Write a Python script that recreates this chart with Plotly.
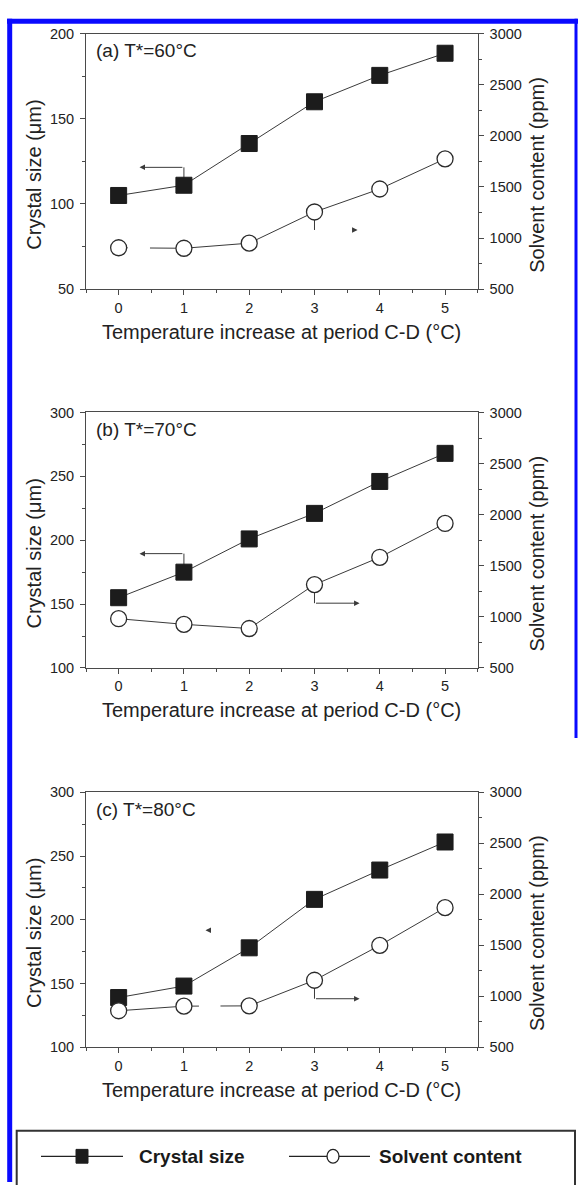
import plotly.graph_objects as go

W, H = 578, 1185
FONT = "Liberation Sans, Arial, sans-serif"
LEG_FONT = "Liberation Sans Narrow, Arial Narrow, Liberation Sans, Arial, sans-serif"

# ---------------- data ----------------
x_vals = [0, 1, 2, 3, 4, 5]
crystal_a = [105, 111, 135.5, 160, 175.5, 188.5]
solvent_a = [905, 900, 950, 1255, 1480, 1775]
crystal_b = [155, 175, 201, 221, 246, 268]
solvent_b = [982, 927, 886, 1316, 1583, 1914]
crystal_c = [139, 148, 178, 216, 239, 261]
solvent_c = [858, 903, 906, 1157, 1499, 1869]

panel_labels = ["(a) T*=60°C", "(b) T*=70°C", "(c) T*=80°C"]
crystal_ranges = [[50, 200], [100, 300], [100, 300]]
solvent_range = [500, 3000]
x_title = "Temperature increase at period C-D (°C)"
y_left_title = "Crystal size (μm)"
y_right_title = "Solvent content (ppm)"
legend_names = ["Crystal size", "Solvent content"]

crystal_series = [crystal_a, crystal_b, crystal_c]
solvent_series = [solvent_a, solvent_b, solvent_c]

# ---------------- layout helpers ----------------
def px(p):
    return p / W


def py(p):
    return 1 - p / H


X0, X1 = 86, 477.7
panels_px = [(26, 285), (410, 669), (795, 1053.5)]

AX = "#4a4a4a"
TXT = "#222222"
LINE = "#3a3a3a"

fig = go.Figure()
layout = dict(
    width=W, height=H, margin=dict(l=0, r=0, t=0, b=0),
    paper_bgcolor="white", plot_bgcolor="white", showlegend=False,
)
annotations = []
shapes = []

tickfont = dict(family=FONT, size=14.5, color=TXT)

for i in range(3):
    xn = "x" if i == 0 else f"x{i+1}"
    yl = "y" if i == 0 else f"y{2*i+1}"
    yr = f"y{2*i+2}"
    xkey = "xaxis" if i == 0 else f"xaxis{i+1}"
    ylkey = "yaxis" if i == 0 else f"yaxis{2*i+1}"
    yrkey = f"yaxis{2*i+2}"
    top, bot = panels_px[i]
    dom_y = [py(bot), py(top)]

    layout[xkey] = dict(
        domain=[px(X0), px(X1)], range=[-0.5, 5.5], anchor=yl,
        tickmode="linear", tick0=0, dtick=1,
        ticks="outside", ticklen=5, tickwidth=1, tickcolor=AX,
        showline=True, linecolor=AX, linewidth=1, mirror=True,
        showgrid=False, zeroline=False, tickfont=tickfont,
        minor=dict(dtick=0.5, ticks="outside", ticklen=3, tickcolor=AX, showgrid=False),
    )
    layout[ylkey] = dict(
        domain=dom_y, range=crystal_ranges[i], anchor=xn,
        tickmode="linear", tick0=0, dtick=50,
        ticks="outside", ticklen=5, tickwidth=1, tickcolor=AX,
        showline=True, linecolor=AX, linewidth=1,
        showgrid=False, zeroline=False, tickfont=tickfont, ticklabelstandoff=3,
        minor=dict(dtick=25, ticks="outside", ticklen=3, tickcolor=AX, showgrid=False),
    )
    layout[yrkey] = dict(
        domain=dom_y, range=solvent_range, anchor=xn, overlaying=yl, side="right",
        tickmode="linear", tick0=0, dtick=500,
        ticks="outside", ticklen=5, tickwidth=1, tickcolor=AX,
        showline=True, linecolor=AX, linewidth=1,
        showgrid=False, zeroline=False, tickfont=tickfont, ticklabelstandoff=3,
        minor=dict(dtick=250, ticks="outside", ticklen=3, tickcolor=AX, showgrid=False),
    )

    fig.add_trace(go.Scatter(
        x=x_vals, y=crystal_series[i], xaxis=xn, yaxis=yl, mode="lines+markers",
        name=legend_names[0], cliponaxis=False,
        line=dict(color=LINE, width=1),
        marker=dict(symbol="square", size=16, color="#1c1c1c", line=dict(color="#1c1c1c", width=1)),
    ))
    fig.add_trace(go.Scatter(
        x=x_vals, y=solvent_series[i], xaxis=xn, yaxis=yr, mode="lines+markers",
        name=legend_names[1], cliponaxis=False,
        line=dict(color=LINE, width=1),
        marker=dict(symbol="circle", size=16, color="white", line=dict(color="#2a2a2a", width=1.3)),
    ))

    # panel label
    annotations.append(dict(
        text=panel_labels[i], xref="paper", yref="paper", x=px(94), y=py(top + 17),
        xanchor="left", yanchor="middle", showarrow=False,
        font=dict(family=FONT, size=19, color=TXT),
    ))
    # axis titles
    mid = (top + bot) / 2 + 13.5
    annotations.append(dict(
        text=y_left_title, xref="paper", yref="paper", x=px(34), y=py(mid),
        xanchor="center", yanchor="middle", textangle=-90, showarrow=False,
        font=dict(family=FONT, size=20, color=TXT),
    ))
    annotations.append(dict(
        text=y_right_title, xref="paper", yref="paper", x=px(537), y=py(mid),
        xanchor="center", yanchor="middle", textangle=-90, showarrow=False,
        font=dict(family=FONT, size=20, color=TXT),
    ))
    annotations.append(dict(
        text=x_title, xref="paper", yref="paper", x=px((X0 + X1) / 2), y=py(bot + 43),
        xanchor="center", yanchor="middle", showarrow=False,
        font=dict(family=FONT, size=20, color=TXT),
    ))

# ---------------- pointer arrows ----------------
def vline(xr, yr, x, y0, y1):
    shapes.append(dict(type="line", xref=xr, yref=yr, x0=x, x1=x, y0=y0, y1=y1,
                       line=dict(color=LINE, width=1), layer="below"))


def arrow(xr, yr, x_tip, x_tail, y):
    annotations.append(dict(
        xref=xr, yref=yr, axref=xr, ayref=yr, x=x_tip, y=y, ax=x_tail, ay=y,
        text="", showarrow=True, arrowhead=2, arrowsize=1.1, arrowwidth=1,
        arrowcolor=LINE,
    ))

# (a)
vline("x", "y", 1, crystal_a[1], 121.5)
arrow("x", "y", 0.32, 1, 121.5)
vline("x", "y2", 3, solvent_a[3], 1079)
arrow("x", "y2", 3.66, 3.56, 1079)
# (b)
vline("x2", "y3", 1, crystal_b[1], 189.5)
arrow("x2", "y3", 0.32, 1, 189.5)
vline("x2", "y4", 3, solvent_b[3], 1134)
arrow("x2", "y4", 3.69, 3, 1134)
# (c)
arrow("x3", "y5", 1.33, 1.43, 191.7)
vline("x3", "y6", 3, solvent_c[3], 976)
arrow("x3", "y6", 3.69, 3, 976)

# gaps visible in the printed connecting lines
shapes.append(dict(type="rect", xref="x", yref="y2", x0=0.14, x1=0.48, y0=870, y1=935,
                   fillcolor="white", line=dict(width=0), layer="above"))
shapes.append(dict(type="rect", xref="x3", yref="y6", x0=1.23, x1=1.56, y0=875, y1=935,
                   fillcolor="white", line=dict(width=0), layer="above"))

# ---------------- legend box ----------------
shapes.append(dict(type="rect", xref="paper", yref="paper",
                   x0=px(16.7), x1=px(575), y0=py(1200), y1=py(1138),
                   line=dict(color="#333333", width=2), fillcolor="rgba(0,0,0,0)"))
leg_y = 1164
shapes.append(dict(type="line", xref="paper", yref="paper", x0=px(41), x1=px(123),
                   y0=py(leg_y), y1=py(leg_y), line=dict(color="#222", width=1.3)))
shapes.append(dict(type="rect", xref="paper", yref="paper", x0=px(76), x1=px(88),
                   y0=py(leg_y + 7), y1=py(leg_y - 7), fillcolor="#1c1c1c",
                   line=dict(color="#1c1c1c", width=1)))
shapes.append(dict(type="line", xref="paper", yref="paper", x0=px(289), x1=px(370),
                   y0=py(leg_y), y1=py(leg_y), line=dict(color="#222", width=1.3)))
shapes.append(dict(type="circle", xref="paper", yref="paper", x0=px(327), x1=px(339),
                   y0=py(leg_y + 7), y1=py(leg_y - 7), fillcolor="white",
                   line=dict(color="#222", width=1.3)))
annotations.append(dict(text="<b>" + legend_names[0] + "</b>", xref="paper", yref="paper",
                        x=px(137), y=py(leg_y), xanchor="left", yanchor="middle", showarrow=False,
                        font=dict(family=LEG_FONT, size=19, color="#1a1a1a")))
annotations.append(dict(text="<b>" + legend_names[1] + "</b>", xref="paper", yref="paper",
                        x=px(377), y=py(leg_y), xanchor="left", yanchor="middle", showarrow=False,
                        font=dict(family=LEG_FONT, size=19, color="#1a1a1a")))

# ---------------- blue frame ----------------
BLUE = "#0a0aff"
shapes.append(dict(type="line", xref="paper", yref="paper", x0=px(9.7), x1=px(9.7),
                   y0=py(1190), y1=py(11), line=dict(color=BLUE, width=5)))
shapes.append(dict(type="line", xref="paper", yref="paper", x0=px(7), x1=px(580),
                   y0=py(13.5), y1=py(13.5), line=dict(color=BLUE, width=5)))
shapes.append(dict(type="line", xref="paper", yref="paper", x0=px(576), x1=px(576),
                   y0=py(740), y1=py(11), line=dict(color=BLUE, width=3)))

layout["annotations"] = annotations
layout["shapes"] = shapes
fig.update_layout(**layout)
fig.write_html("out.html")
